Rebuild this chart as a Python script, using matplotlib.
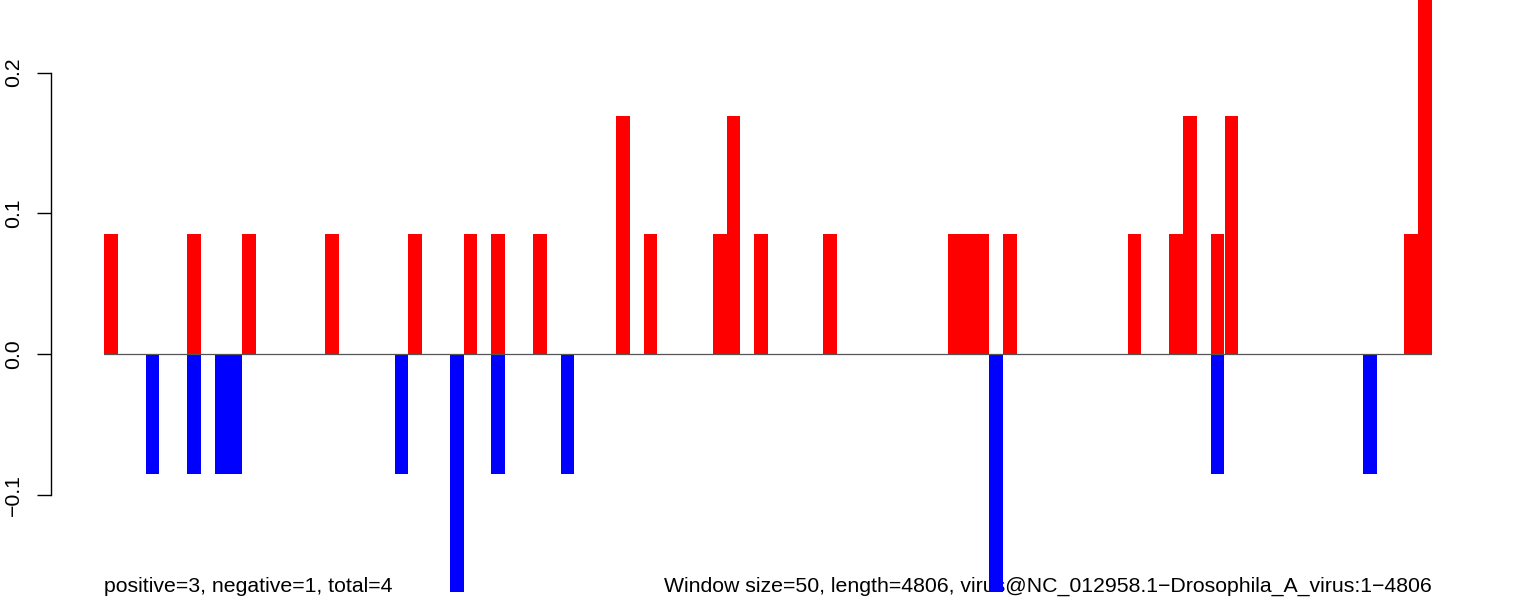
import matplotlib
matplotlib.use("Agg")
import matplotlib.pyplot as plt

plt.rcParams['font.family'] = ['Liberation Sans', 'DejaVu Sans']

# one value per 50-nt window (96 windows)
windows = list(range(96))
positive = [
    0.085, 0, 0, 0, 0, 0, 0.085, 0, 0, 0, 0.085, 0,
    0, 0, 0, 0, 0.085, 0, 0, 0, 0, 0, 0.085, 0,
    0, 0, 0.085, 0, 0.085, 0, 0, 0.085, 0, 0, 0, 0,
    0, 0.169, 0, 0.085, 0, 0, 0, 0, 0.085, 0.169, 0, 0.085,
    0, 0, 0, 0, 0.085, 0, 0, 0, 0, 0, 0, 0,
    0, 0.085, 0.085, 0.085, 0, 0.085, 0, 0, 0, 0, 0, 0,
    0, 0, 0.085, 0, 0, 0.085, 0.169, 0, 0.085, 0.169, 0, 0,
    0, 0, 0, 0, 0, 0, 0, 0, 0, 0, 0.085, 0.254,
]
negative = [
    0, 0, 0, -0.085, 0, 0, -0.085, 0, -0.085, -0.085, 0, 0,
    0, 0, 0, 0, 0, 0, 0, 0, 0, -0.085, 0, 0,
    0, -0.169, 0, 0, -0.085, 0, 0, 0, 0, -0.085, 0, 0,
    0, 0, 0, 0, 0, 0, 0, 0, 0, 0, 0, 0,
    0, 0, 0, 0, 0, 0, 0, 0, 0, 0, 0, 0,
    0, 0, 0, 0, -0.169, 0, 0, 0, 0, 0, 0, 0,
    0, 0, 0, 0, 0, 0, 0, 0, -0.085, 0, 0, 0,
    0, 0, 0, 0, 0, 0, 0, -0.085, 0, 0, 0, 0,
]
yticks = [-0.1, 0.0, 0.1, 0.2]
left_note = "positive=3, negative=1, total=4"
right_note = "Window size=50, length=4806, virus@NC_012958.1\u2212Drosophila_A_virus:1\u22124806"

fig = plt.figure(figsize=(15.33, 6.05), dpi=100)
ax = fig.add_axes([104 / 1533, 0, 1328 / 1533, 1])

ax.bar(windows, positive, width=1.0, align='edge', color='#ff0000', linewidth=0, zorder=2)
ax.bar(windows, negative, width=1.0, align='edge', color='#0000ff', linewidth=0, zorder=2)
ax.axhline(0, color='#555555', linewidth=0.9, zorder=3)

ax.set_xlim(0, len(windows))
ax.set_ylim(-251 / 1407, 354 / 1407)

for s in ['top', 'right', 'bottom']:
    ax.spines[s].set_visible(False)
ax.spines['left'].set_position(('outward', 38.5))
ax.spines['left'].set_bounds(-0.1, 0.2)
ax.spines['left'].set_linewidth(1.0)
ax.set_xticks([])
ax.set_yticks(yticks)
ax.set_yticklabels(['\u22120.1', '0.0', '0.1', '0.2'], rotation=90, va='center')
ax.tick_params(axis='y', length=9.8, width=1.0, pad=10, labelsize=15.3)

ax.text(0, 13 / 605, left_note, transform=ax.transAxes, ha='left', va='baseline',
        fontsize=15.3, zorder=1)
ax.text(1, 13 / 605, right_note, transform=ax.transAxes, ha='right', va='baseline',
        fontsize=15.3, zorder=1)

fig.savefig("out.png", dpi=100)
